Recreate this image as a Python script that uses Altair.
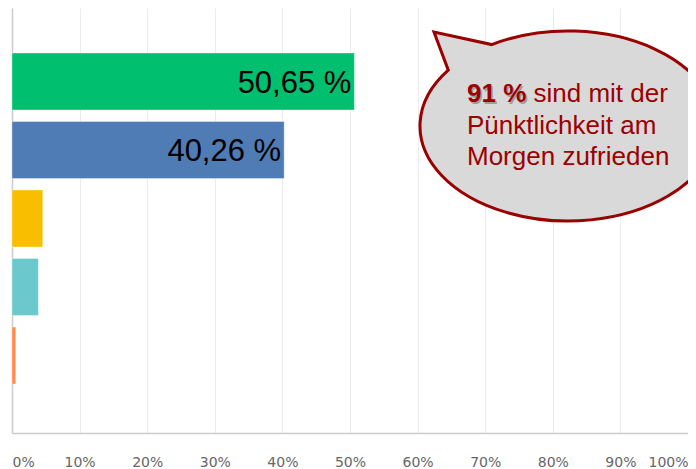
import math
import altair as alt
import pandas as pd

# ---- data ----
categories = ["Sehr zufrieden", "Zufrieden", "Weder noch", "Unzufrieden", "Sehr unzufrieden"]
values = [50.65, 40.26, 4.55, 3.90, 0.55]
bar_labels = ["50,65 %", "40,26 %", "", "", ""]
colors = ["#00BF6F", "#507CB6", "#F9BE00", "#6BC8CD", "#FF8B4F"]
tick_values = [0, 10, 20, 30, 40, 50, 60, 70, 80, 90, 100]

callout_bold = "91 %"
callout_line1 = "sind mit der"
callout_line2 = "Pünktlichkeit am"
callout_line3 = "Morgen zufrieden"

df = pd.DataFrame({"cat": categories, "value": values, "label": bar_labels})

PAD_L = 4
W, H = 676, 425

x_enc = alt.X(
    "value:Q",
    scale=alt.Scale(domain=[0, 100], nice=False),
    axis=alt.Axis(
        values=tick_values,
        labelExpr="datum.value + '%'",
        title=None,
        grid=True,
        gridColor="#ebebeb",
        gridWidth=1,
        domain=True,
        domainColor="#cccccc",
        domainWidth=1.5,
        ticks=False,
        labelPadding=22,
        labelFont="DejaVu Sans",
        labelFontSize=14,
        labelColor="#666666",
        labelFlush=True,
    ),
)
y_enc = alt.Y(
    "cat:N",
    sort=None,
    scale=alt.Scale(paddingInner=0.168, paddingOuter=0.686, align=0.479),
    axis=alt.Axis(labels=False, ticks=False, title=None, grid=False,
                  domain=True, domainColor="#cccccc", domainWidth=1.5),
)

bars = alt.Chart(df).mark_bar(stroke="white", strokeOpacity=0.35, strokeWidth=1).encode(
    x=x_enc,
    y=y_enc,
    color=alt.Color("cat:N", sort=None,
                    scale=alt.Scale(domain=categories, range=colors), legend=None),
)

labels = alt.Chart(df).mark_text(
    align="right", baseline="middle", dx=-3, dy=2,
    font="Liberation Sans", fontSize=31, color="black",
).encode(x="value:Q", y=alt.Y("cat:N", sort=None), text="label:N")

# ---- speech bubble (custom symbol path, pixel units, scale 1) ----
rx, ry = 148.0, 95.0
def E(t):
    return (rx * math.cos(t), ry * math.sin(t))
def dE(t):
    return (-rx * math.sin(t), ry * math.cos(t))
t1 = math.radians(-121)
t2 = math.radians(216)
nseg = 10
ts = [t1 + (t2 - t1) * i / nseg for i in range(nseg + 1)]
p = E(t1)
d = "M%.2f,%.2f" % p
for a, b in zip(ts[:-1], ts[1:]):
    k = 4.0 / 3.0 * math.tan((b - a) / 4.0)
    p0, p3 = E(a), E(b)
    d0, d3 = dE(a), dE(b)
    c1 = (p0[0] + k * d0[0], p0[1] + k * d0[1])
    c2 = (p3[0] - k * d3[0], p3[1] - k * d3[1])
    d += "C%.2f,%.2f %.2f,%.2f %.2f,%.2f" % (c1[0], c1[1], c2[0], c2[1], p3[0], p3[1])
tip = (434 - 568, 32 - 126)
d += "L%.2f,%.2fZ" % tip

OX, OY = 8 + PAD_L, 8  # page offset of plot origin

one = pd.DataFrame({"a": [0]})
bubble = alt.Chart(one).mark_point(
    shape=d, size=4, filled=True, fill="#d9d9d9", stroke="#990000",
    strokeWidth=3, opacity=1, fillOpacity=1, strokeOpacity=1,
).encode(x=alt.value(568 - OX), y=alt.value(126 - OY))

red = "#9c0000"
txt_font = "Liberation Sans"
shadow = alt.Chart(one).mark_text(
    text=callout_bold, align="left", baseline="alphabetic", font=txt_font,
    fontSize=26, fontWeight="bold", color="#555555", opacity=0.45,
).encode(x=alt.value(467 - OX + 1.5), y=alt.value(102 - OY + 1.5))
bold = alt.Chart(one).mark_text(
    text=callout_bold, align="left", baseline="alphabetic", font=txt_font,
    fontSize=26, fontWeight="bold", color=red,
).encode(x=alt.value(467 - OX), y=alt.value(102 - OY))
l1 = alt.Chart(one).mark_text(
    text=callout_line1, align="left", baseline="alphabetic", font=txt_font,
    fontSize=26, color=red,
).encode(x=alt.value(533.5 - OX), y=alt.value(102 - OY))
l2 = alt.Chart(one).mark_text(
    text=callout_line2, align="left", baseline="alphabetic", font=txt_font,
    fontSize=26, color=red,
).encode(x=alt.value(467 - OX), y=alt.value(133.5 - OY))
l3 = alt.Chart(one).mark_text(
    text=callout_line3, align="left", baseline="alphabetic", font=txt_font,
    fontSize=26, color=red,
).encode(x=alt.value(467 - OX), y=alt.value(165 - OY))

chart = alt.layer(bars, labels, bubble, shadow, bold, l1, l2, l3).properties(
    width=W, height=H,
    padding={"left": PAD_L, "top": 0, "right": 0, "bottom": 35},
    autosize=alt.AutoSizeParams(type="none"),
    background="white",
).configure_view(stroke=None)

chart.save("out.html", embed_options={"renderer": "svg", "actions": False})
